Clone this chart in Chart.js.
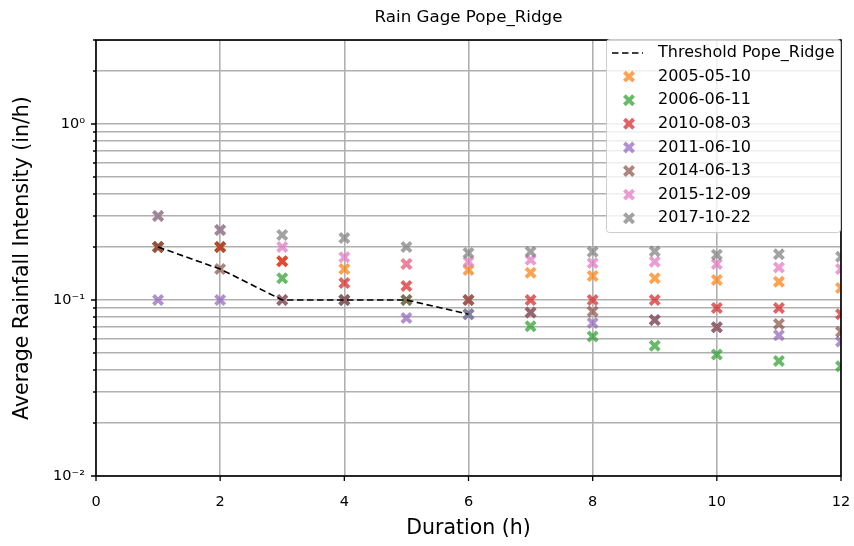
<!DOCTYPE html>
<html>
<head>
<meta charset="utf-8">
<title>Rain Gage Pope_Ridge</title>
<script src="https://cdn.jsdelivr.net/npm/chart.js@4.4.1/dist/chart.umd.min.js"></script>
<style>
  html, body { margin: 0; padding: 0; background: #fff; }
  canvas { display: block; }
</style>
</head>
<body>
<canvas id="chart" width="854" height="546"></canvas>
<script>
// durations in hours
const durations = [1, 2, 3, 4, 5, 6, 7, 8, 9, 10, 11, 12];

// threshold curve for the gage
const thresholdDurations = [1, 2, 3, 4, 5, 6];
const thresholdValues = [0.2, 0.15, 0.1, 0.1, 0.1, 0.083];

// average intensity (in/h) for each storm event
const eventDates = ['2005-05-10', '2006-06-11', '2010-08-03', '2011-06-10', '2014-06-13', '2015-12-09', '2017-10-22'];
const intensity20050510 = [0.2, 0.2, 0.166, 0.15, 0.16, 0.148, 0.143, 0.137, 0.133, 0.13, 0.127, 0.117];
const intensity20060611 = [0.2, 0.2, 0.133, 0.1, 0.1, 0.083, 0.071, 0.062, 0.055, 0.049, 0.045, 0.042];
const intensity20100803 = [0.2, 0.2, 0.166, 0.125, 0.12, 0.1, 0.1, 0.1, 0.1, 0.09, 0.09, 0.083];
const intensity20110610 = [0.1, 0.1, 0.1, 0.1, 0.079, 0.083, 0.085, 0.074, 0.077, 0.07, 0.063, 0.058];
const intensity20140613 = [0.2, 0.15, 0.1, 0.1, 0.1, 0.1, 0.085, 0.086, 0.077, 0.07, 0.073, 0.066];
const intensity20151209 = [0.3, 0.25, 0.2, 0.175, 0.16, 0.165, 0.169, 0.162, 0.165, 0.16, 0.153, 0.15];
const intensity20171022 = [0.3, 0.25, 0.234, 0.225, 0.2, 0.185, 0.188, 0.188, 0.189, 0.181, 0.182, 0.176];
const eventSeries = [intensity20050510, intensity20060611, intensity20100803, intensity20110610,
                     intensity20140613, intensity20151209, intensity20171022];

// log axis ticks: decades get labels, the rest are minor
const majorTickValues = [0.01, 0.1, 1];
const majorTickLabels = ['10\u207b\u00b2', '10\u207b\u00b9', '10\u2070'];
const minorTickValues = [0.02, 0.03, 0.04, 0.05, 0.06, 0.07, 0.08, 0.09,
                         0.2, 0.3, 0.4, 0.5, 0.6, 0.7, 0.8, 0.9, 2, 3];

const eventColors = ['#ff7f0e', '#2ca02c', '#d62728', '#9467bd', '#8c564b', '#e377c2', '#7f7f7f'];
const markerAlpha = 0.72;
const markerRadius = 6.5;
const markerWidth = 3.9;

function withAlpha(hex, a) {
    const n = parseInt(hex.slice(1), 16);
    return `rgba(${n >> 16}, ${(n >> 8) & 255}, ${n & 255}, ${a})`;
}

function drawX(ctx, cx, cy, r, w, color) {
    const d = r * Math.SQRT1_2;
    ctx.lineWidth = w;
    ctx.strokeStyle = color;
    ctx.beginPath();
    ctx.moveTo(cx - d, cy - d);
    ctx.lineTo(cx + d, cy + d);
    ctx.moveTo(cx - d, cy + d);
    ctx.lineTo(cx + d, cy - d);
    ctx.stroke();
}

Chart.defaults.font.family = "'DejaVu Sans', sans-serif";
Chart.defaults.color = '#000';

const datasets = [{
    type: 'line',
    label: 'Threshold Pope_Ridge',
    data: thresholdDurations.map((d, i) => ({ x: d, y: thresholdValues[i] })),
    showLine: true,
    borderColor: '#000',
    borderWidth: 1.6,
    borderDash: [6.5, 3.5],
    pointRadius: 0,
    fill: false,
    order: 0
}];

eventSeries.forEach((values, i) => {
    const color = withAlpha(eventColors[i], markerAlpha);
    datasets.push({
        type: 'scatter',
        label: eventDates[i],
        data: durations.map((d, j) => ({ x: d, y: values[j] })),
        pointStyle: 'crossRot',
        pointRadius: markerRadius,
        pointBorderWidth: markerWidth,
        pointBorderColor: color,
        pointBackgroundColor: color,
        order: 20 - i
    });
});

// black frame, outward ticks and the boxed legend in the upper right
const frameAndLegend = {
    id: 'frameAndLegend',
    afterDatasetsDraw(chart) {
        const { ctx, chartArea: a, scales: { x, y } } = chart;
        ctx.save();
        ctx.strokeStyle = '#000';
        ctx.lineWidth = 1.3;
        ctx.beginPath();
        x.ticks.forEach(t => {
            const px = x.getPixelForValue(t.value);
            ctx.moveTo(px, a.bottom);
            ctx.lineTo(px, a.bottom + 5);
        });
        y.ticks.forEach(t => {
            const py = Math.round(y.getPixelForValue(t.value));
            const len = majorTickValues.includes(t.value) ? 5 : 3;
            ctx.moveTo(a.left - len, py);
            ctx.lineTo(a.left, py);
        });
        ctx.stroke();
        ctx.lineWidth = 1.6;
        ctx.strokeRect(a.left, a.top, a.right - a.left, a.bottom - a.top);
        ctx.restore();
    },
    afterDraw(chart) {
        const { ctx, chartArea: a } = chart;
        const left = a.right - 235, top = a.top - 1;
        const w = 234, h = 193, r = 3;
        ctx.save();
        ctx.beginPath();
        ctx.roundRect(left + 0.5, top + 0.5, w, h, r);
        ctx.fillStyle = 'rgba(255, 255, 255, 0.8)';
        ctx.fill();
        ctx.strokeStyle = '#cccccc';
        ctx.lineWidth = 1;
        ctx.stroke();

        ctx.font = "16px 'DejaVu Sans', sans-serif";
        ctx.textBaseline = 'middle';
        ctx.textAlign = 'left';
        const rowStep = 23.6;
        chart.data.datasets.forEach((ds, i) => {
            const cy = top + 14 + i * rowStep;
            if (ds.type === 'line') {
                ctx.strokeStyle = '#000';
                ctx.lineWidth = 1.6;
                ctx.setLineDash(ds.borderDash);
                ctx.beginPath();
                ctx.moveTo(left + 6, cy);
                ctx.lineTo(left + 37, cy);
                ctx.stroke();
                ctx.setLineDash([]);
            } else {
                drawX(ctx, left + 23, cy, markerRadius, markerWidth, ds.pointBorderColor);
            }
            ctx.fillStyle = '#000';
            ctx.fillText(ds.label, left + 52, cy);
        });
        ctx.restore();
    }
};

new Chart(document.getElementById('chart'), {
    type: 'scatter',
    data: { datasets },
    plugins: [frameAndLegend],
    options: {
        responsive: false,
        animation: false,
        layout: { padding: { left: 0, right: 13, top: 0, bottom: 0 } },
        plugins: {
            legend: { display: false },
            tooltip: { enabled: false },
            title: {
                display: true,
                text: 'Rain Gage Pope_Ridge',
                fullSize: false,
                color: '#000',
                font: { size: 16.7, weight: 'normal', lineHeight: 1.2 },
                padding: { top: 8, bottom: 12 }
            }
        },
        scales: {
            x: {
                type: 'linear',
                min: 0,
                max: 12,
                afterFit(scale) {
                    scale.height = 70;
                    scale.paddingLeft = 0;
                    scale.paddingRight = 0;
                },
                ticks: { stepSize: 2, color: '#000', font: { size: 14.5 }, padding: 18, maxRotation: 0 },
                grid: { color: '#b0b0b0', lineWidth: 1.6, drawTicks: false },
                border: { display: false },
                title: {
                    display: true,
                    text: 'Duration (h)',
                    color: '#000',
                    font: { size: 20.5 },
                    padding: { top: 0, bottom: 5 }
                }
            },
            y: {
                type: 'logarithmic',
                min: 0.01,
                max: 3,
                afterFit(scale) { scale.width = 96; },
                afterBuildTicks(scale) {
                    scale.ticks = majorTickValues.concat(minorTickValues)
                        .sort((p, q) => p - q)
                        .map(v => ({ value: v, major: majorTickValues.includes(v) }));
                },
                ticks: {
                    autoSkip: false,
                    color: '#000',
                    font: { size: 14.5 },
                    padding: 11,
                    callback(value) {
                        const k = majorTickValues.indexOf(value);
                        return k >= 0 ? majorTickLabels[k] : '';
                    }
                },
                grid: { color: '#b0b0b0', lineWidth: 1.6, drawTicks: false },
                border: { display: false },
                title: {
                    display: true,
                    text: 'Average Rainfall Intensity (in/h)',
                    color: '#000',
                    font: { size: 20.5 },
                    padding: { top: 10, bottom: 0 }
                }
            }
        }
    }
});
</script>
</body>
</html>
